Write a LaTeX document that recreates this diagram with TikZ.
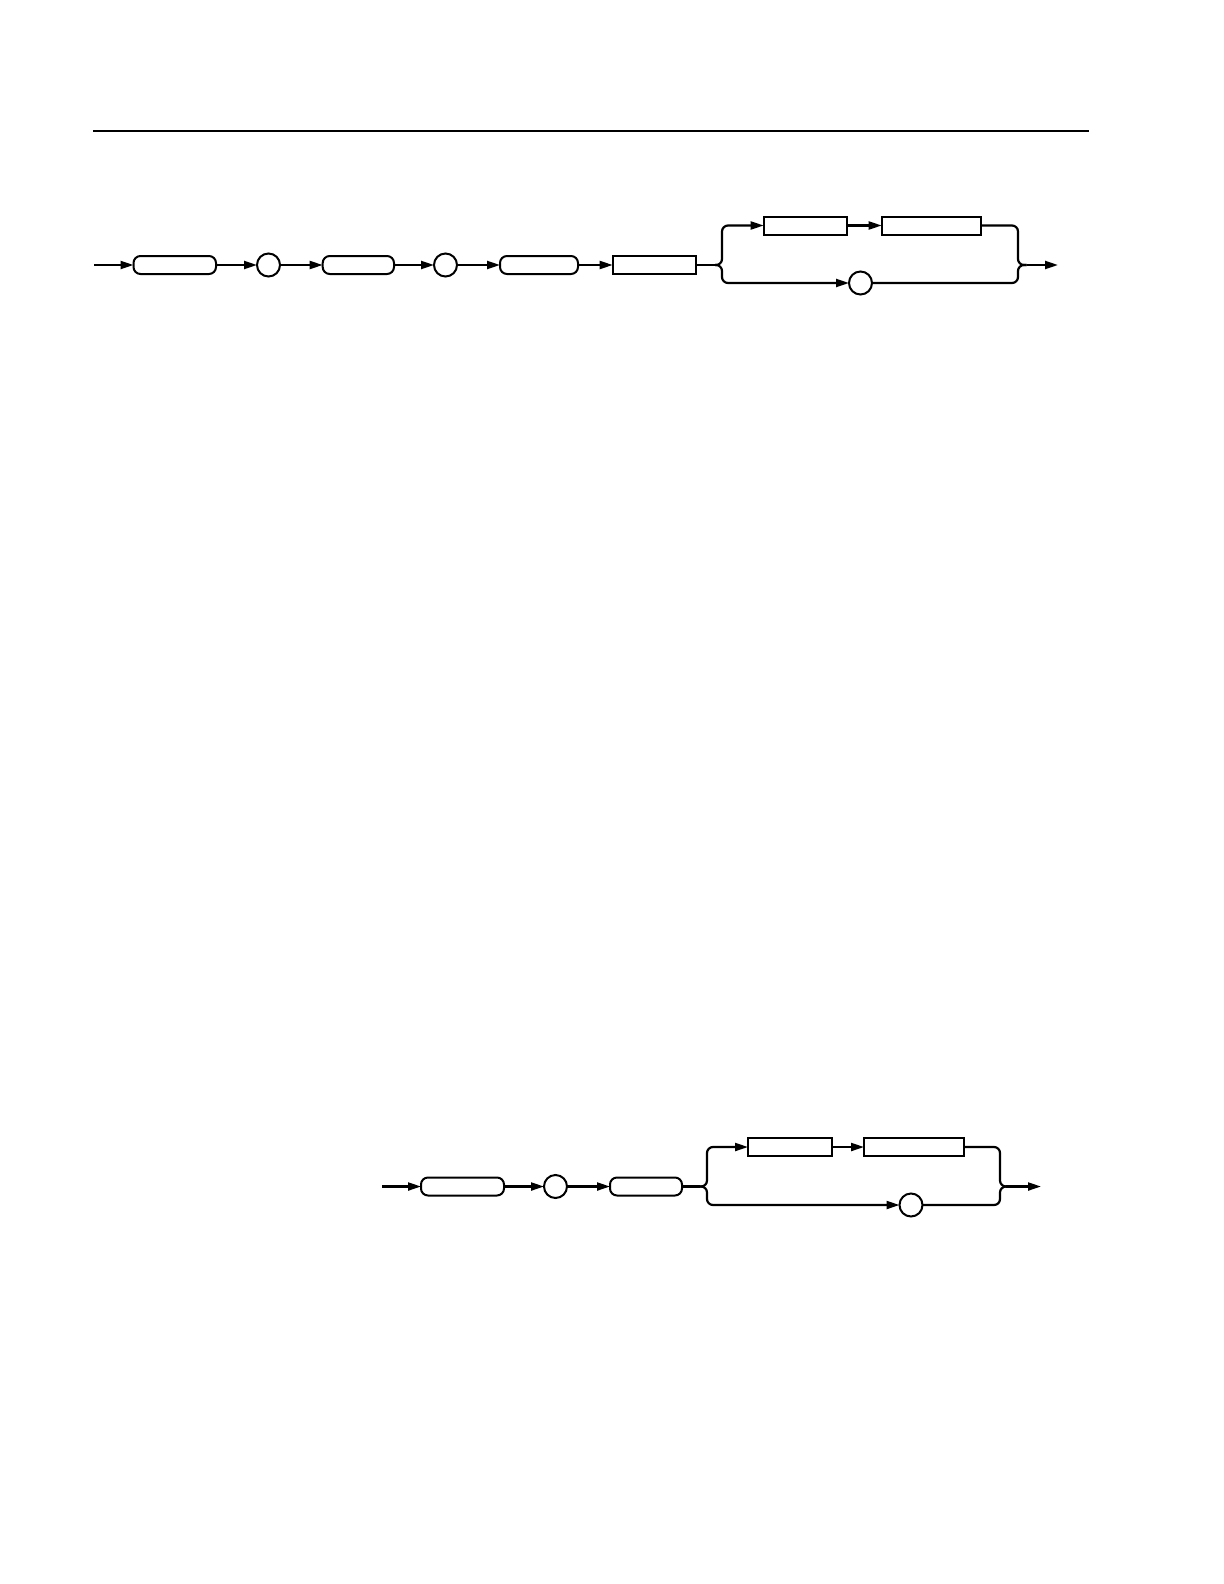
\documentclass[tikz,border=0pt]{standalone}
\usetikzlibrary{arrows.meta}
\begin{document}
\begin{tikzpicture}[x=0.5pt,y=-0.5pt,
  rbox/.style={draw, line width=1pt, rounded corners=3.5pt, minimum height=9pt, inner sep=0pt, outer sep=0pt},
  sbox/.style={draw, line width=1pt, minimum height=9pt, inner sep=0pt, outer sep=0pt},
  cnode/.style={draw, line width=1pt, circle, minimum size=11.5pt, inner sep=0pt, outer sep=0pt},
  conn/.style={line width=1.1pt, -{Triangle[length=6.5pt,width=4pt]}},
  plain/.style={line width=1.1pt},
  brace/.style={line width=1.1pt, rounded corners=3pt}]
\useasboundingbox (0,0) rectangle (1224,1584);
% top rule
\coordinate (ruleL) at (93,131);
\coordinate (ruleR) at (1089,131);
\draw[line width=0.7pt] (ruleL) -- (ruleR);

% ---------------- diagram 1 ----------------
\coordinate (s1) at (94,265);
\node[rbox, minimum width=41.25pt] (A1) at (174.75,265) {};
\node[cnode] (C1) at (268.5,265) {};
\node[rbox, minimum width=35.65pt] (A2) at (358.35,265) {};
\node[cnode] (C2) at (445.5,265) {};
\node[rbox, minimum width=39pt] (A3) at (539,265) {};
\node[sbox, minimum width=41.65pt] (B1) at (654.35,265) {};
\node[sbox, minimum width=41.65pt] (B2) at (805.35,225.5) {};
\node[sbox, minimum width=49.5pt] (B3) at (931.2,225.5) {};
\node[cnode] (C3) at (860.5,283) {};
\coordinate (L1) at (715,265);
\coordinate (L1v) at (722,265);
\coordinate (R1v) at (1018,265);
\coordinate (R1) at (1026.5,265);
\coordinate (e1) at (1058,265);

\draw[conn] (s1) -- (A1);
\draw[conn] (A1) -- (C1);
\draw[conn] (C1) -- (A2);
\draw[conn] (A2) -- (C2);
\draw[conn] (C2) -- (A3);
\draw[conn] (A3) -- (B1);
\draw[plain] (B1) -- (L1);
\draw[conn, brace] (L1) -- (L1v) |- (B2.west);
\draw[conn, brace] (L1) -- (L1v) |- (C3.west);
\draw[conn] (B2) -- (B3);
\draw[brace] (B3.east) -| (R1v) -- (R1);
\draw[brace] (C3.east) -| (R1v) -- (R1);
\draw[conn] (R1) -- (e1);

% ---------------- diagram 2 ----------------
\coordinate (s2) at (382,1186.5);
\node[rbox, minimum width=41.5pt] (E1) at (462.5,1186.5) {};
\node[cnode] (C4) at (555.5,1186.5) {};
\node[rbox, minimum width=36pt] (E2) at (646,1186.5) {};
\node[sbox, minimum width=42pt] (F1) at (790,1147) {};
\node[sbox, minimum width=50pt] (F2) at (914,1147) {};
\node[cnode] (C5) at (911,1205) {};
\coordinate (L2) at (700,1186.5);
\coordinate (L2v) at (707,1186.5);
\coordinate (R2v) at (1000,1186.5);
\coordinate (R2) at (1006,1186.5);
\coordinate (e2) at (1041,1186.5);

\draw[conn] (s2) -- (E1);
\draw[conn] (E1) -- (C4);
\draw[conn] (C4) -- (E2);
\draw[plain] (E2) -- (L2);
\draw[conn, brace] (L2) -- (L2v) |- (F1.west);
\draw[conn, brace] (L2) -- (L2v) |- (C5.west);
\draw[conn] (F1) -- (F2);
\draw[brace] (F2.east) -| (R2v) -- (R2);
\draw[brace] (C5.east) -| (R2v) -- (R2);
\draw[conn] (R2) -- (e2);
\end{tikzpicture}
\end{document}
